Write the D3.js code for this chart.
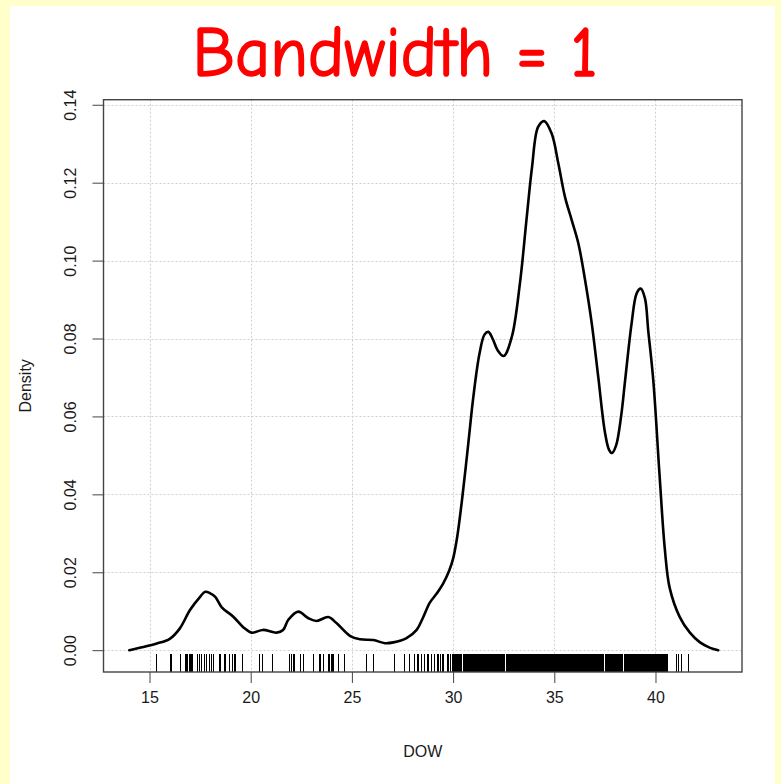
<!DOCTYPE html>
<html>
<head>
<meta charset="utf-8">
<script src="https://cdn.jsdelivr.net/npm/d3@7"></script>
<style>
  html, body { margin: 0; padding: 0; background: #ffffcc; }
  svg { display: block; }
  text { font-family: "Liberation Sans", Arial, sans-serif; fill: #1a1a1a; }
</style>
</head>
<body>
<svg id="chart" width="781" height="784"></svg>
<script>
// Kernel density estimate of DOW (bandwidth = 1)
const densityX = [14.0, 14.7, 15.36, 16.0, 16.5, 17.0, 17.5, 17.75, 18.0, 18.25, 18.57, 19.14, 19.63, 20.05,
  20.6, 21.28, 21.6, 21.86, 22.35, 22.85, 23.26, 23.83, 24.25, 24.9, 25.4, 26.06, 26.63, 27.05, 27.7,
  28.2, 28.5, 28.85, 29.2, 29.5, 29.8, 30.0, 30.2, 30.45, 30.75, 31.0, 31.3, 31.55, 31.74, 31.95, 32.2, 32.5,
  32.9, 33.3, 33.64, 33.9, 34.2, 34.5, 34.87, 35.2, 35.53, 35.86, 36.19, 36.52, 36.85, 37.17, 37.5,
  37.7, 37.85, 38.05, 38.3, 38.5, 38.82, 39.07, 39.27, 39.48, 39.64, 39.89, 40.2, 40.46, 40.7, 41.2,
  41.7, 42.2, 42.7, 43.1];
const densityY = [0.0000, 0.0008, 0.0017, 0.0029, 0.0056, 0.0103, 0.0137, 0.0150, 0.0146, 0.0137, 0.0110,
  0.0086, 0.0059, 0.0045, 0.0052, 0.0045, 0.0052, 0.0078, 0.0099, 0.0082, 0.0075, 0.0085, 0.0069,
  0.0037, 0.0028, 0.0026, 0.0018, 0.0020, 0.0031, 0.0052, 0.0082, 0.0122, 0.0146, 0.0170, 0.0203,
  0.0235, 0.0290,
  0.0390, 0.0530, 0.0650, 0.0760, 0.0810, 0.0817, 0.0800, 0.0770, 0.0755, 0.0804, 0.0941, 0.1112,
  0.1240, 0.1343, 0.1358, 0.1326, 0.1249, 0.1163, 0.1104, 0.1044, 0.0950, 0.0839, 0.0702, 0.0560,
  0.0515, 0.0506, 0.0525, 0.0600, 0.0693, 0.0839, 0.0916, 0.0928, 0.0903, 0.0821, 0.0693, 0.0450,
  0.0260, 0.0160, 0.0085, 0.0045, 0.0020, 0.0006, 0.0000];

// Observations shown as a rug under the curve
const dowLow = [15.36, 16.06, 16.54, 16.8, 16.88, 17.0, 17.1, 17.36, 17.46, 17.58, 17.71, 17.82, 17.95,
  18.05, 18.18, 18.48, 18.73, 18.97, 19.1, 19.22, 19.6, 20.45, 20.59, 21.08, 21.93, 22.02, 22.1, 22.18,
  22.46, 22.59, 23.12, 23.42, 23.58, 23.83, 23.91, 24.0, 24.07, 24.32, 24.65, 25.72, 26.05, 27.12,
  27.61, 27.86, 28.1, 28.27, 28.43, 28.6, 28.76, 28.93, 29.09, 29.25, 29.37, 29.5, 29.75, 29.87];
const dowHigh = [
  30.00, 30.05, 30.10, 30.15, 30.20, 30.25, 30.30, 30.35, 30.40, 30.50, 30.55, 30.60, 30.65, 30.70, 30.75, 30.80, 30.85, 30.90, 30.95,
  31.00, 31.05, 31.10, 31.15, 31.20, 31.25, 31.30, 31.35, 31.40, 31.45, 31.50, 31.55, 31.60, 31.65, 31.70, 31.75, 31.80, 31.85, 31.90, 31.95,
  32.00, 32.05, 32.10, 32.15, 32.20, 32.25, 32.30, 32.35, 32.40, 32.45, 32.50, 32.55, 32.65, 32.70, 32.75, 32.80, 32.85, 32.90, 32.95,
  33.00, 33.05, 33.10, 33.15, 33.20, 33.25, 33.30, 33.35, 33.40, 33.45, 33.50, 33.55, 33.60, 33.65, 33.70, 33.75, 33.80, 33.85, 33.90, 33.95,
  34.00, 34.05, 34.10, 34.15, 34.20, 34.25, 34.30, 34.35, 34.40, 34.45, 34.50, 34.55, 34.60, 34.65, 34.70, 34.75, 34.80, 34.85, 34.90, 34.95,
  35.00, 35.05, 35.10, 35.15, 35.20, 35.25, 35.30, 35.35, 35.40, 35.45, 35.50, 35.55, 35.60, 35.65, 35.70, 35.75, 35.80, 35.85, 35.90, 35.95,
  36.00, 36.05, 36.10, 36.15, 36.20, 36.25, 36.30, 36.35, 36.40, 36.45, 36.50, 36.55, 36.60, 36.65, 36.70, 36.75, 36.80, 36.85, 36.90, 36.95,
  37.00, 37.05, 37.10, 37.15, 37.20, 37.25, 37.30, 37.35, 37.40, 37.45, 37.55, 37.60, 37.65, 37.70, 37.75, 37.80, 37.85, 37.90,
  38.00, 38.05, 38.10, 38.15, 38.20, 38.25, 38.30, 38.35, 38.45, 38.50, 38.55, 38.60, 38.65, 38.70, 38.75, 38.80, 38.85, 38.90, 38.95,
  39.00, 39.05, 39.10, 39.15, 39.20, 39.25, 39.30, 39.35, 39.40, 39.45, 39.50, 39.55, 39.60, 39.65, 39.70, 39.75, 39.80, 39.85, 39.90, 39.95,
  40.00, 40.05, 40.10, 40.15, 40.20, 40.25, 40.30, 40.35, 40.40, 40.45, 40.50, 40.55, 40.60,
  41.02, 41.15, 41.3, 41.64];

const xTicks = [15, 20, 25, 30, 35, 40];
const yTicks = [0, 0.02, 0.04, 0.06, 0.08, 0.10, 0.12, 0.14];
const titleText = "Bandwidth = 1";
const xLabel = "DOW";
const yLabel = "Density";

const svg = d3.select("#chart");
const box = { left: 103.5, right: 742, top: 99.7, bottom: 672 };

// page panels
svg.append("rect").attr("x", 0).attr("y", 0).attr("width", 781).attr("height", 784).attr("fill", "#ffffcc");
svg.append("rect").attr("x", 10).attr("y", 6).attr("width", 765).attr("height", 778).attr("fill", "#ffffff");

const x = d3.scaleLinear().domain([12.727, 44.274]).range([box.left, box.right]);
const y = d3.scaleLinear().domain([-0.0056, 0.1413]).range([box.bottom, box.top]);

// dotted grid
const grid = svg.append("g").attr("stroke", "#cfcfcf").attr("stroke-width", 1).attr("stroke-dasharray", "2,2");
grid.selectAll("line.gx").data(xTicks).join("line")
  .attr("x1", d => Math.round(x(d)) + 0.5).attr("x2", d => Math.round(x(d)) + 0.5)
  .attr("y1", box.top).attr("y2", box.bottom);
grid.selectAll("line.gy").data(yTicks).join("line")
  .attr("y1", d => Math.round(y(d)) + 0.5).attr("y2", d => Math.round(y(d)) + 0.5)
  .attr("x1", box.left).attr("x2", box.right);

// rug
const rug = dowLow.concat(dowHigh);
svg.append("g").attr("shape-rendering", "crispEdges")
  .selectAll("line").data(rug).join("line")
  .attr("x1", d => x(d)).attr("x2", d => x(d))
  .attr("y1", box.bottom).attr("y2", box.bottom - 18)
  .attr("stroke", "#000").attr("stroke-width", 1.2);

// density curve
const pts = densityX.map((d, i) => [d, densityY[i]]);
const line = d3.line().x(d => x(d[0])).y(d => y(d[1])).curve(d3.curveCatmullRom.alpha(0.5));
svg.append("path").datum(pts).attr("d", line)
  .attr("fill", "none").attr("stroke", "#000").attr("stroke-width", 2.6)
  .attr("stroke-linejoin", "round").attr("stroke-linecap", "round");

// axes
const xAxis = svg.append("g").attr("transform", `translate(0,${box.bottom})`)
  .call(d3.axisBottom(x).tickValues(xTicks).tickSize(11).tickPadding(9).tickFormat(d3.format("d")));
xAxis.select(".domain").remove();
xAxis.selectAll("line").attr("stroke", "#444");
xAxis.selectAll("text").attr("font-size", 16).attr("fill", "#1a1a1a");

const yAxis = svg.append("g").attr("transform", `translate(${box.left},0)`)
  .call(d3.axisLeft(y).tickValues(yTicks).tickSize(11).tickFormat(d3.format(".2f")));
yAxis.select(".domain").remove();
yAxis.selectAll("line").attr("stroke", "#444");
yAxis.selectAll("text")
  .attr("transform", "rotate(-90)")
  .attr("x", 0).attr("y", -28).attr("dy", 0)
  .attr("text-anchor", "middle")
  .attr("font-size", 16).attr("fill", "#1a1a1a");

// frame
svg.append("rect").attr("x", box.left).attr("y", box.top)
  .attr("width", box.right - box.left).attr("height", box.bottom - box.top)
  .attr("fill", "none").attr("stroke", "#444").attr("stroke-width", 1.4);

// labels
svg.append("text").attr("x", (box.left + box.right) / 2).attr("y", 757)
  .attr("text-anchor", "middle").attr("font-size", 16).text(xLabel);
svg.append("text").attr("transform", `translate(31,${(box.top + box.bottom) / 2}) rotate(-90)`)
  .attr("text-anchor", "middle").attr("font-size", 16).text(yLabel);

svg.append("text").attr("x", 395).attr("y", 76)
  .attr("text-anchor", "middle")
  .attr("textLength", 405).attr("lengthAdjust", "spacingAndGlyphs")
  .style("font-family", "'Comic Sans MS', 'Comic Neue', Lato, 'Open Sans', sans-serif")
  .style("fill", "#ff0000")
  .style("stroke", "#ff0000").style("stroke-width", 1.6).style("stroke-linejoin", "round")
  .attr("font-size", 70).text(titleText);
</script>
</body>
</html>
